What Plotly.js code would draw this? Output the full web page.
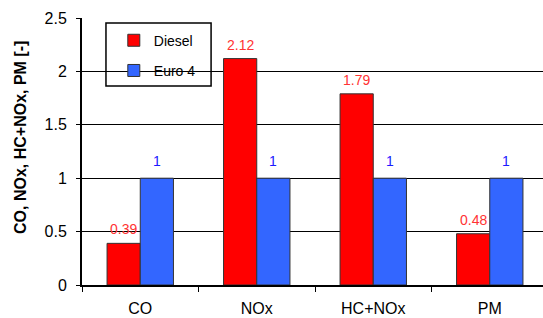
<!DOCTYPE html>
<html>
<head>
<meta charset="utf-8">
<script src="https://cdn.plot.ly/plotly-3.0.1.min.js"></script>
<style>html,body{margin:0;padding:0;background:#fff;}#chart{width:543px;height:318px;}</style>
</head>
<body>
<div id="chart"></div>
<script>
const categories = ["CO", "NOx", "HC+NOx", "PM"];
const dieselValues = [0.39, 2.12, 1.79, 0.48];
const euro4Values = [1, 1, 1, 1];
const seriesNames = ["Diesel", "Euro 4"];
const yTitle = "CO, NOx, HC+NOx, PM [-]";

const FONT = "Liberation Sans, Arial, sans-serif";

const traces = [
  {
    type: "bar", name: seriesNames[0], x: categories, y: dieselValues,
    marker: {color: "#FF0000", line: {color: "#333333", width: 1}},
    legendgroup: "a", hoverinfo: "skip"
  },
  {
    type: "bar", name: seriesNames[1], x: categories, y: euro4Values,
    marker: {color: "#3366FF", line: {color: "#333333", width: 1}},
    legendgroup: "b", hoverinfo: "skip"
  }
];

const annotations = [];
categories.forEach((c, i) => {
  annotations.push({
    x: c, y: dieselValues[i], xref: "x", yref: "y", text: String(dieselValues[i]),
    showarrow: false, xshift: -16.7, yshift: 4, yanchor: "bottom",
    font: {family: FONT, size: 14, color: "#FF3333"}
  });
  annotations.push({
    x: c, y: euro4Values[i], xref: "x", yref: "y", text: String(euro4Values[i]),
    showarrow: false, xshift: 16.7, yshift: 7, yanchor: "bottom",
    font: {family: FONT, size: 14, color: "#1A1AFF"}
  });
});
annotations.push({
  xref: "paper", yref: "paper", x: -0.1323, y: 0.5506,
  xanchor: "center", yanchor: "middle", textangle: -90, showarrow: false,
  text: yTitle,
  font: {family: FONT, size: 16, color: "#000", weight: "bold"}
});

const layout = {
  width: 543, height: 318,
  margin: {l: 82, r: 0, t: 18, b: 33},
  paper_bgcolor: "#ffffff", plot_bgcolor: "#ffffff",
  font: {family: FONT, size: 16, color: "#000"},
  barmode: "group", bargap: 0.43, bargroupgap: 0,
  showlegend: true,
  legend: {
    x: 0.069, y: 0.975, xanchor: "left", yanchor: "top",
    bgcolor: "rgba(0,0,0,0)", borderwidth: 0,
    font: {family: FONT, size: 14, color: "#000"},
    tracegroupgap: 9, itemwidth: 30
  },
  xaxis: {
    type: "category", range: [-0.5, 3.457],
    showline: true, linecolor: "#000", linewidth: 2,
    ticks: "outside", tickson: "boundaries", ticklen: 5, tickcolor: "#000", tickwidth: 1,
    tickfont: {family: FONT, size: 16, color: "#000"}, ticklabelstandoff: 8,
    showgrid: false, zeroline: false, fixedrange: true, automargin: false
  },
  yaxis: {
    range: [0, 2.5], dtick: 0.5, tick0: 0,
    showline: true, linecolor: "#000", linewidth: 2,
    ticks: "outside", ticklen: 4, tickcolor: "#000",
    showgrid: true, gridcolor: "#000", gridwidth: 1,
    zeroline: false, ticklabelstandoff: 6,
    tickfont: {family: FONT, size: 16, color: "#000"},
    fixedrange: true, automargin: false
  },
  shapes: [{
    type: "rect", xref: "paper", yref: "paper",
    x0: 0.052, x1: 0.280, y0: 0.745, y1: 0.981,
    line: {color: "#000", width: 1.5}, fillcolor: "#ffffff", layer: "below"
  }],
  annotations: annotations
};

Plotly.newPlot("chart", traces, layout, {displayModeBar: false, staticPlot: true});
</script>
</body>
</html>
